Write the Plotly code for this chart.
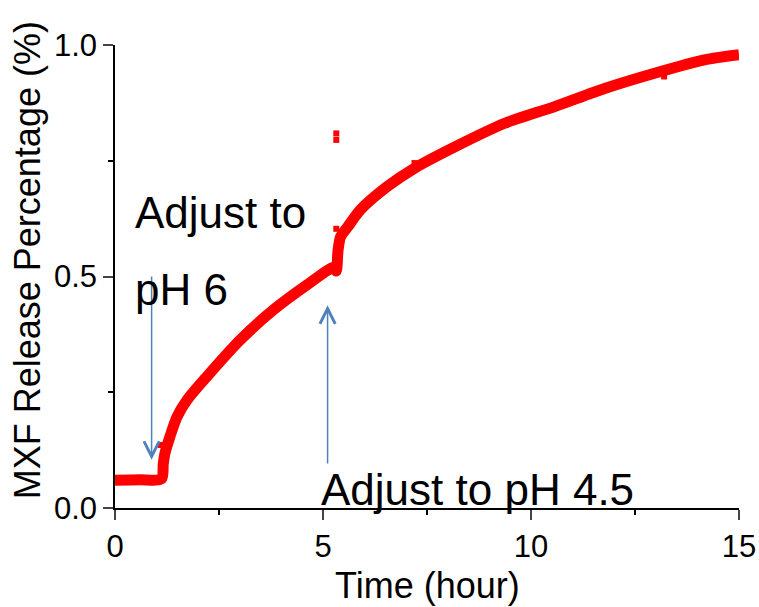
import plotly.graph_objects as go

# ---- data ----
time_h = [0, 0.6, 1.12, 1.16, 1.2, 1.32, 1.49, 1.73, 2.21, 3.01, 3.81, 4.62, 5.26,
          5.32, 5.36, 5.42, 5.6, 5.9, 6.54, 7.2, 8.17, 9.37, 10.57, 11.77, 12.97,
          14.17, 15.0]
release = [0.060, 0.061, 0.063, 0.095, 0.118, 0.154, 0.197, 0.233, 0.284, 0.363,
           0.428, 0.482, 0.520, 0.512, 0.555, 0.585, 0.608, 0.644, 0.694, 0.734,
           0.780, 0.831, 0.867, 0.906, 0.939, 0.968, 0.979]

outlier_time = [1.1, 5.32, 5.32, 5.32, 7.2, 13.2]
outlier_release = [0.136, 0.809, 0.795, 0.603, 0.745, 0.932]

x_ticks = [0, 5, 10, 15]
y_ticks = [0.0, 0.5, 1.0]
y_tick_labels = ["0.0", "0.5", "1.0"]

FONT = "Liberation Sans, Arial, sans-serif"
RED = "#ff0000"
BLUE = "#4f81bd"

fig = go.Figure()
fig.add_trace(go.Scatter(x=time_h, y=release, mode="lines",
                         line=dict(color=RED, width=11, shape="spline", smoothing=0.7),
                         showlegend=False))
fig.add_trace(go.Scatter(x=outlier_time, y=outlier_release, mode="markers",
                         marker=dict(symbol="square", size=6, color=RED),
                         showlegend=False, cliponaxis=False))

# arrows
fig.add_annotation(x=0.88, y=0.104, ax=0.88, ay=0.503, xref="x", yref="y",
                   axref="x", ayref="y", text="", showarrow=True, arrowhead=5,
                   arrowsize=2, arrowwidth=1.5, arrowcolor=BLUE)
fig.add_annotation(x=5.11, y=0.438, ax=5.11, ay=0.093, xref="x", yref="y",
                   axref="x", ayref="y", text="", showarrow=True, arrowhead=5,
                   arrowsize=2, arrowwidth=1.5, arrowcolor=BLUE)

# texts
tfont = dict(family=FONT, size=44, color="black")
fig.add_annotation(x=0.43, y=0.638, xref="x", yref="y", text="Adjust to",
                   showarrow=False, xanchor="left", yanchor="middle", font=tfont)
fig.add_annotation(x=0.43, y=0.473, xref="x", yref="y", text="pH 6",
                   showarrow=False, xanchor="left", yanchor="middle", font=tfont)
fig.add_annotation(x=4.91, y=0.039, xref="x", yref="y", text="Adjust to pH 4.5",
                   showarrow=False, xanchor="left", yanchor="middle", font=tfont)

# axis titles
fig.add_annotation(x=0.5, y=-0.168, xref="paper", yref="paper", text="Time (hour)",
                   showarrow=False, xanchor="center", yanchor="middle",
                   font=dict(family=FONT, size=36, color="black"))
fig.add_annotation(x=-0.1406, y=0.5356, xref="paper", yref="paper",
                   text="MXF Release Percentage (%)", textangle=-90,
                   showarrow=False, xanchor="center", yanchor="middle",
                   font=dict(family=FONT, size=36, color="black"))

fig.update_xaxes(range=[0, 15], tickvals=x_ticks, ticks="outside", ticklen=10,
                 tickwidth=1.5, showline=True, linecolor="black", linewidth=1.5,
                 showgrid=False, zeroline=False, automargin=False,
                 tickfont=dict(family=FONT, size=31, color="black"),
                 minor=dict(tickvals=[2.5, 7.5, 12.5], ticks="outside", ticklen=5,
                            tickwidth=1.5, tickcolor="black"))
fig.update_yaxes(range=[0, 1.0], tickvals=y_ticks, ticktext=y_tick_labels,
                 ticks="outside", ticklen=10, tickwidth=1.5, showline=True,
                 linecolor="black", linewidth=1.5, showgrid=False, zeroline=False,
                 automargin=False,
                 tickfont=dict(family=FONT, size=31, color="black"),
                 minor=dict(tickvals=[0.25, 0.75], ticks="outside", ticklen=5,
                            tickwidth=1.5, tickcolor="black"))

fig.update_layout(width=759, height=607, plot_bgcolor="white", paper_bgcolor="white",
                  margin=dict(l=115, r=20, t=45, b=99), showlegend=False)

fig.write_html("out.html")
